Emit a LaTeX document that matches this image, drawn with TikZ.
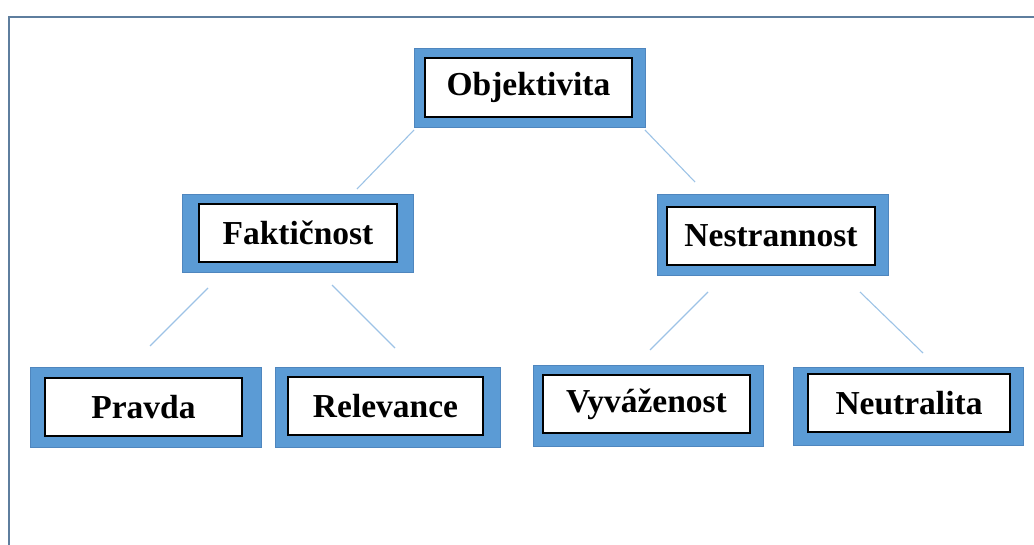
\documentclass[tikz,border=0pt]{standalone}
\usepackage{fontspec}
\setmainfont{Liberation Serif}
\definecolor{boxblue}{HTML}{5B9BD5}
\definecolor{boxedge}{HTML}{4F86BE}
\definecolor{framec}{HTML}{5E7E9E}
\definecolor{linkc}{HTML}{9DC3E6}
\begin{document}
\begin{tikzpicture}[x=1pt,y=-1pt,
  outerbox/.style={rectangle,fill=boxblue,draw=boxedge,line width=0.8pt,inner sep=0pt},
  innerbox/.style={rectangle,fill=white,draw=black,line width=1.6pt,inner sep=0pt,
    font=\fontsize{33.5}{38}\selectfont\bfseries},
  link/.style={draw=linkc,line width=1.1pt}]
\useasboundingbox (0,0) rectangle (1034,545);
\draw[framec,line width=2pt] (9,545) -- (9,17) -- (1034,17);
% outer boxes
\node[outerbox,minimum width=231pt,minimum height=79pt] (obj) at (529.5,87.5) {};
\node[outerbox,minimum width=231pt,minimum height=78pt] (fak) at (297.5,233) {};
\node[outerbox,minimum width=231pt,minimum height=81pt] (nes) at (772.5,234.5) {};
\node[outerbox,minimum width=231pt,minimum height=80pt] (pra) at (145.5,407) {};
\node[outerbox,minimum width=225pt,minimum height=80pt] (rel) at (387.5,407) {};
\node[outerbox,minimum width=230pt,minimum height=81pt] (vyv) at (648,405.5) {};
\node[outerbox,minimum width=230pt,minimum height=78pt] (neu) at (908,406) {};
% inner boxes
\node[innerbox,minimum width=207pt,minimum height=59pt] (obji) at (528.5,87.5) {Objektivita};
\node[innerbox,minimum width=198pt,minimum height=58pt] (faki) at (298,233) {Faktičnost};
\node[innerbox,minimum width=208pt,minimum height=58pt] (nesi) at (771,236) {Nestrannost};
\node[innerbox,minimum width=197pt,minimum height=58pt] (prai) at (143.5,407) {Pravda};
\node[innerbox,minimum width=195pt,minimum height=58pt] (reli) at (385.5,406) {Relevance};
\node[innerbox,minimum width=207pt,minimum height=58pt] (vyvi) at (646.5,404) {Vyváženost};
\node[innerbox,minimum width=202pt,minimum height=58pt] (neui) at (909,403) {Neutralita};
% connector ends
\coordinate (a1) at (414,130); \coordinate (a2) at (357,189);
\coordinate (b1) at (645,130); \coordinate (b2) at (695,182);
\coordinate (c1) at (208,288); \coordinate (c2) at (150,346);
\coordinate (d1) at (332,285); \coordinate (d2) at (395,348);
\coordinate (e1) at (708,292); \coordinate (e2) at (650,350);
\coordinate (f1) at (860,292); \coordinate (f2) at (923,353);
\draw[link] (a1) -- (a2);
\draw[link] (b1) -- (b2);
\draw[link] (c1) -- (c2);
\draw[link] (d1) -- (d2);
\draw[link] (e1) -- (e2);
\draw[link] (f1) -- (f2);
\end{tikzpicture}
\end{document}
